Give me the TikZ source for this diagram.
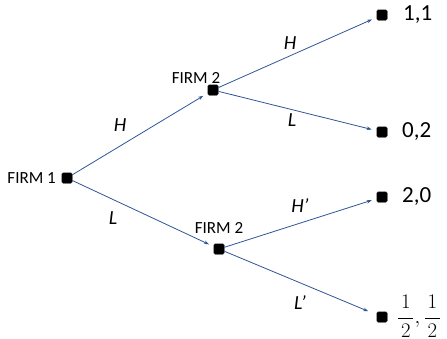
\documentclass[tikz,border=0pt]{standalone}
\usepackage{fontspec}
\setmainfont{Carlito}
\usetikzlibrary{arrows.meta}
\definecolor{edgeblue}{RGB}{47,85,151}
\tikzset{
  sq/.style={fill=black,draw=black!80,rectangle,minimum size=10.5pt,inner sep=0pt,rounded corners=1.3pt},
  firm/.style={font=\fontsize{17}{20}\selectfont,inner sep=0pt},
  pay/.style={font=\fontsize{23}{26}\selectfont,inner sep=0pt,anchor=west},
  act/.style={font=\fontsize{20}{23}\selectfont\itshape,inner sep=0pt},
  move/.style={draw=edgeblue,line width=0.8pt,-{Stealth[length=5pt,width=3.5pt]},shorten >=5pt}
}
\newcommand{\halfbox}[1]{\makebox[15pt]{$#1$}}
\begin{document}
\begin{tikzpicture}[x=1pt,y=-1pt]
\useasboundingbox (0,0) rectangle (447,338);
\node[sq] (f1) at (67,178) {};
\node[sq] (f2a) at (213,90) {};
\node[sq] (f2b) at (219,249) {};
\node[sq] (t1) at (382,15) {};
\node[sq] (t2) at (382,132) {};
\node[sq] (t3) at (382,197) {};
\node[sq] (t4) at (382,317) {};
\node[firm,anchor=east] (lf1) at (56,178) {FIRM 1};
\node[firm] (lf2a) at (196,78) {FIRM 2};
\node[firm] (lf2b) at (219,228) {FIRM 2};
\node[pay] (p1) at (403,15) {1,1};
\node[pay] (p2) at (402,132) {0,2};
\node[pay] (p3) at (402,197) {2,0};
\node[inner sep=0pt,anchor=base west,font=\fontsize{20}{24}\selectfont] (p4) at (397,323) {$\displaystyle\frac{\halfbox{1}}{\halfbox{2}},\frac{\halfbox{1}}{\halfbox{2}}$};
\draw[move] (f1) -- (f2a);
\draw[move] (f1) -- (f2b);
\draw[move] (f2a) -- (t1);
\draw[move] (f2a) -- (t2);
\draw[move] (f2b) -- (t3);
\draw[move,shorten >=9pt] (f2b) -- (t4);
\node[act] (a1) at (120,125) {H};
\node[act] (a2) at (113,218) {L};
\node[act] (a3) at (290,43) {H};
\node[act] (a4) at (292,120) {L};
\node[act] (a5) at (300,206) {H’};
\node[act] (a6) at (300,303) {L’};
\end{tikzpicture}
\end{document}
